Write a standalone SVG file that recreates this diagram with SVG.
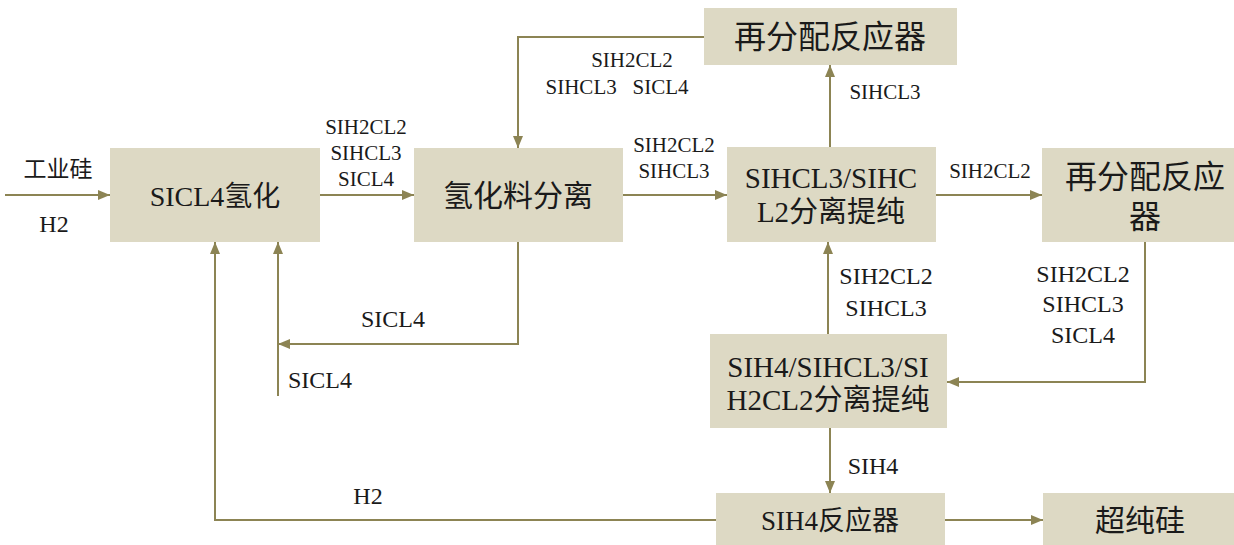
<svg xmlns="http://www.w3.org/2000/svg" width="1234" height="545" viewBox="0 0 1234 545">
<style>
.box{fill:#DDD9C4;}
.ln{fill:none;stroke:#8C8454;stroke-width:2;}
</style>
<defs>
<marker id="ah" markerWidth="12" markerHeight="10" refX="12" refY="5" orient="auto" markerUnits="userSpaceOnUse">
<path d="M0,0 L12,5 L0,10 Z" fill="#8C8454"/>
</marker>
</defs>
<rect width="1234" height="545" fill="#ffffff"/>
<g id="connectors">
<line class="ln" x1="5" y1="195" x2="110" y2="195" marker-end="url(#ah)"/>
<line class="ln" x1="320" y1="195" x2="414" y2="195" marker-end="url(#ah)"/>
<line class="ln" x1="623" y1="195" x2="727" y2="195" marker-end="url(#ah)"/>
<line class="ln" x1="830" y1="147" x2="830" y2="65" marker-end="url(#ah)"/>
<polyline class="ln" points="704,37 518,37 518,148" marker-end="url(#ah)"/>
<line class="ln" x1="936" y1="195" x2="1042" y2="195" marker-end="url(#ah)"/>
<polyline class="ln" points="1145,242 1145,382 947,382" marker-end="url(#ah)"/>
<line class="ln" x1="828" y1="334" x2="828" y2="242" marker-end="url(#ah)"/>
<polyline class="ln" points="518,242 518,344 278,344" marker-end="url(#ah)"/>
<line class="ln" x1="278" y1="396" x2="278" y2="242" marker-end="url(#ah)"/>
<line class="ln" x1="830" y1="428" x2="830" y2="493" marker-end="url(#ah)"/>
<polyline class="ln" points="716,520 215,520 215,242" marker-end="url(#ah)"/>
<line class="ln" x1="945" y1="520" x2="1043" y2="520" marker-end="url(#ah)"/>
</g>
<g id="labels" fill="#1a1a1a" text-anchor="middle">
<text x="58" y="177" font-size="23" style="font-family:'Noto Sans CJK SC',sans-serif">工业硅</text>
<text x="54" y="232" font-size="24" style="font-family:'Liberation Serif',serif">H2</text>
<text x="366" y="134" font-size="21" style="font-family:'Liberation Serif',serif">SIH2CL2</text>
<text x="366" y="160" font-size="21" style="font-family:'Liberation Serif',serif">SIHCL3</text>
<text x="366" y="186" font-size="21" style="font-family:'Liberation Serif',serif">SICL4</text>
<text x="674" y="152" font-size="21" style="font-family:'Liberation Serif',serif">SIH2CL2</text>
<text x="674" y="178" font-size="21" style="font-family:'Liberation Serif',serif">SIHCL3</text>
<text x="632" y="67" font-size="21" style="font-family:'Liberation Serif',serif">SIH2CL2</text>
<text x="617" y="94" font-size="21" style="font-family:'Liberation Serif',serif" xml:space="preserve">SIHCL3   SICL4</text>
<text x="885" y="99" font-size="21" style="font-family:'Liberation Serif',serif">SIHCL3</text>
<text x="990" y="178" font-size="21" style="font-family:'Liberation Serif',serif">SIH2CL2</text>
<text x="1083" y="282" font-size="24" style="font-family:'Liberation Serif',serif">SIH2CL2</text>
<text x="1083" y="312" font-size="24" style="font-family:'Liberation Serif',serif">SIHCL3</text>
<text x="1083" y="343" font-size="24" style="font-family:'Liberation Serif',serif">SICL4</text>
<text x="886" y="284" font-size="24" style="font-family:'Liberation Serif',serif">SIH2CL2</text>
<text x="886" y="316" font-size="24" style="font-family:'Liberation Serif',serif">SIHCL3</text>
<text x="393" y="327" font-size="24" style="font-family:'Liberation Serif',serif">SICL4</text>
<text x="320" y="388" font-size="24" style="font-family:'Liberation Serif',serif">SICL4</text>
<text x="873" y="474" font-size="24" style="font-family:'Liberation Serif',serif">SIH4</text>
<text x="368" y="504" font-size="24" style="font-family:'Liberation Serif',serif">H2</text>
</g>
<g id="n1" fill="#1a1a1a" text-anchor="middle"><rect class="box" x="110" y="148" width="210" height="94"/><text x="215" y="206" font-size="28" style="font-family:'Liberation Serif',serif">SICL4<tspan style="font-family:'Noto Sans CJK SC',sans-serif">氢化</tspan></text></g>
<g id="n2" fill="#1a1a1a" text-anchor="middle"><rect class="box" x="414" y="148" width="209" height="94"/><text x="518" y="206" font-size="30" style="font-family:'Noto Sans CJK SC',sans-serif">氢化料分离</text></g>
<g id="n3" fill="#1a1a1a" text-anchor="middle"><rect class="box" x="704" y="8" width="253" height="57"/><text x="830" y="48" font-size="32" style="font-family:'Noto Sans CJK SC',sans-serif">再分配反应器</text></g>
<g id="n4" fill="#1a1a1a" text-anchor="middle"><rect class="box" x="727" y="147" width="209" height="95"/><text x="831" y="188" font-size="29" style="font-family:'Liberation Serif',serif">SIHCL3/SIHC</text><text x="831" y="222" font-size="29" style="font-family:'Liberation Serif',serif">L2<tspan style="font-family:'Noto Sans CJK SC',sans-serif">分离提纯</tspan></text></g>
<g id="n5" fill="#1a1a1a" text-anchor="middle"><rect class="box" x="1042" y="148" width="192" height="94"/><text x="1145" y="188" font-size="32" style="font-family:'Noto Sans CJK SC',sans-serif">再分配反应</text><text x="1145" y="228" font-size="32" style="font-family:'Noto Sans CJK SC',sans-serif">器</text></g>
<g id="n6" fill="#1a1a1a" text-anchor="middle"><rect class="box" x="710" y="334" width="237" height="94"/><text x="828" y="377" font-size="29" style="font-family:'Liberation Serif',serif">SIH4/SIHCL3/SI</text><text x="828" y="410" font-size="29" style="font-family:'Liberation Serif',serif">H2CL2<tspan style="font-family:'Noto Sans CJK SC',sans-serif">分离提纯</tspan></text></g>
<g id="n7" fill="#1a1a1a" text-anchor="middle"><rect class="box" x="716" y="493" width="229" height="52"/><text x="830" y="530" font-size="27" style="font-family:'Liberation Serif',serif">SIH4<tspan style="font-family:'Noto Sans CJK SC',sans-serif">反应器</tspan></text></g>
<g id="n8" fill="#1a1a1a" text-anchor="middle"><rect class="box" x="1043" y="493" width="191" height="52"/><text x="1140" y="531" font-size="30" style="font-family:'Noto Sans CJK SC',sans-serif">超纯硅</text></g>
</svg>
